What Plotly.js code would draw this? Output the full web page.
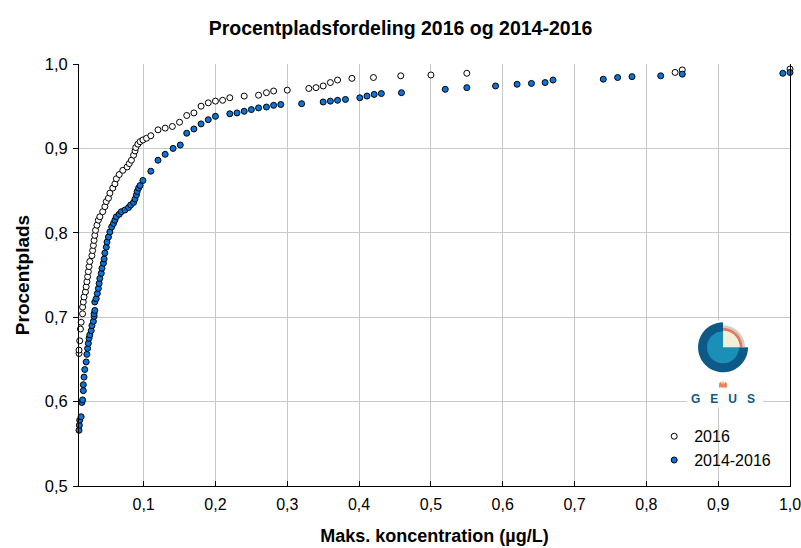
<!DOCTYPE html>
<html>
<head>
<meta charset="utf-8">
<script src="https://cdn.plot.ly/plotly-3.0.1.min.js"></script>
<style>html,body{margin:0;padding:0;background:#fff;}#chart{width:801px;height:548px;}</style>
</head>
<body>
<div id="chart"></div>
<script>
// Series "2016" (max concentration µg/L, percentile)
const x2016 = [0.010,0.010,0.011,0.012,0.013,0.015,0.015,0.016,0.017,0.019,0.020,0.021,0.022,0.023,0.024,0.025,
  0.028,0.029,0.030,0.031,0.032,0.033,0.035,0.037,0.039,0.043,0.046,0.048,0.051,0.053,0.057,0.060,0.062,0.066,
  0.071,0.077,0.080,0.083,0.086,0.088,0.089,0.092,0.095,0.099,0.104,0.110,0.120,0.130,0.140,0.150,0.160,0.170,
  0.180,0.190,0.200,0.210,0.220,0.240,0.260,0.271,0.281,0.300,0.330,0.340,0.350,0.360,0.370,0.390,0.420,0.458,
  0.500,0.550,0.840,0.850,1.000];
const y2016 = [0.657,0.661,0.672,0.686,0.694,0.704,0.712,0.718,0.724,0.730,0.736,0.742,0.748,0.754,0.760,0.766,
  0.773,0.779,0.785,0.791,0.797,0.803,0.809,0.815,0.819,0.825,0.831,0.837,0.841,0.847,0.853,0.858,0.864,0.869,
  0.874,0.878,0.882,0.886,0.892,0.897,0.901,0.905,0.908,0.910,0.912,0.915,0.922,0.924,0.926,0.931,0.939,0.942,
  0.950,0.954,0.956,0.957,0.960,0.962,0.963,0.966,0.968,0.969,0.971,0.972,0.974,0.978,0.981,0.983,0.984,0.986,
  0.987,0.989,0.990,0.993,0.994];

// Series "2014-2016"
const x1416 = [0.010,0.0105,0.011,0.013,0.014,0.015,0.016,0.016,0.017,0.018,0.020,0.021,0.022,0.023,0.024,0.025,
  0.027,0.028,0.030,0.031,0.031,0.032,0.032,0.034,0.0355,0.037,0.038,0.039,0.041,0.042,0.044,0.045,0.046,0.048,
  0.049,0.051,0.053,0.0555,0.058,0.060,0.062,0.066,0.069,0.074,0.079,0.082,0.086,0.088,0.090,0.091,0.093,0.095,
  0.099,0.110,0.120,0.130,0.141,0.151,0.160,0.170,0.180,0.190,0.200,0.220,0.230,0.240,0.250,0.260,0.271,0.281,
  0.291,0.320,0.350,0.360,0.370,0.381,0.401,0.411,0.421,0.431,0.459,0.520,0.550,0.590,0.620,0.640,0.659,0.670,
  0.740,0.760,0.780,0.820,0.850,0.990,1.000];
const y1416 = [0.566,0.572,0.578,0.582,0.599,0.602,0.613,0.620,0.629,0.638,0.647,0.656,0.663,0.669,0.675,0.679,
  0.684,0.690,0.695,0.701,0.704,0.708,0.718,0.722,0.728,0.734,0.740,0.746,0.752,0.758,0.764,0.769,0.776,0.783,
  0.789,0.795,0.801,0.807,0.811,0.815,0.819,0.822,0.825,0.827,0.830,0.833,0.836,0.840,0.845,0.849,0.853,0.856,
  0.862,0.873,0.886,0.893,0.900,0.904,0.918,0.923,0.929,0.934,0.938,0.941,0.942,0.944,0.946,0.948,0.949,0.951,
  0.952,0.953,0.955,0.956,0.957,0.958,0.960,0.962,0.964,0.965,0.966,0.970,0.972,0.974,0.976,0.977,0.978,0.981,
  0.982,0.984,0.985,0.986,0.988,0.989,0.990];

const seriesNames = ['2016','2014-2016'];
const xTickVals = [0.1,0.2,0.3,0.4,0.5,0.6,0.7,0.8,0.9,1.0];
const yTickVals = [0.5,0.6,0.7,0.8,0.9,1.0];

const FONT = 'Liberation Sans, Arial, sans-serif';

// ---- logo helpers (pixel-sized shapes) ----
function sector(r, a0, a1) {
  let p = 'M0,0';
  const n = 40;
  for (let i = 0; i <= n; i++) {
    const a = (a0 + (a1 - a0) * i / n) * Math.PI / 180;
    p += ' L' + (r * Math.cos(a)).toFixed(2) + ',' + (r * Math.sin(a)).toFixed(2);
  }
  return p + ' Z';
}
function band(r0, r1, a0, a1) {
  const n = 30; let p = '';
  for (let i = 0; i <= n; i++) {
    const a = (a0 + (a1 - a0) * i / n) * Math.PI / 180;
    p += (i === 0 ? 'M' : ' L') + (r1 * Math.cos(a)).toFixed(2) + ',' + (r1 * Math.sin(a)).toFixed(2);
  }
  for (let i = n; i >= 0; i--) {
    const a = (a0 + (a1 - a0) * i / n) * Math.PI / 180;
    p += ' L' + (r0 * Math.cos(a)).toFixed(2) + ',' + (r0 * Math.sin(a)).toFixed(2);
  }
  return p + ' Z';
}
const LX = 0.9058, LY = 0.3286; // logo centre (paper)
function pxShape(path, color, ax, ay) {
  return {type:'path', xref:'paper', yref:'paper', xsizemode:'pixel', ysizemode:'pixel',
    xanchor: ax === undefined ? LX : ax, yanchor: ay === undefined ? LY : ay,
    path: path, fillcolor: color, line:{width:0}, layer:'above'};
}
const shapes = [
  {type:'rect', xref:'paper', yref:'paper', x0:0.8551, x1:0.9620, y0:0.1862, y1:0.392,
   fillcolor:'#ffffff', line:{width:0}, layer:'above'},
  pxShape(sector(25, 90, 360), '#0d5a88'),
  pxShape(sector(16, 90, 360), '#1a8fb8'),
  pxShape(band(19.5, 22, 0, 90), '#cfcfcf'),
  pxShape(band(16.5, 19.5, 0, 90), '#e07a5f'),
  pxShape(sector(16.5, 0, 90), '#f3eed6'),
  pxShape('M-4,-3 L4,-3 L4,1 L2,3 L1,0 L0,4 L-1,0 L-2,3 L-4,1 Z', '#e8845a', LX, 0.2408)
];

const traces = [
  {x: x2016, y: y2016, name: seriesNames[0], type:'scatter', mode:'markers', cliponaxis:false,
   marker:{size:6, color:'#ffffff', line:{color:'#000000', width:1}}},
  {x: x1416, y: y1416, name: seriesNames[1], type:'scatter', mode:'markers', cliponaxis:false,
   marker:{size:6, color:'#0a74dc', line:{color:'#000000', width:1}}}
];

const layout = {
  width: 801, height: 548,
  margin: {l:79, r:11, t:64, b:62, pad:0},
  paper_bgcolor:'#ffffff', plot_bgcolor:'#ffffff',
  separators: ', ',
  font: {family: FONT, size: 16, color:'#000000'},
  title: {text:'<b>Procentpladsfordeling 2016 og 2014-2016</b>', font:{family:FONT, size:19.5, color:'#000'},
          x:0.5, xref:'container', xanchor:'center', y:1-28/548, yref:'container', yanchor:'middle'},
  xaxis: {range:[0.01, 1.000001], tickvals: xTickVals, tickformat:'.1f', showgrid:true, gridcolor:'#c8c8c8', gridwidth:1,
          zeroline:false, showline:true, linecolor:'#000', linewidth:1, ticks:'inside', ticklen:5, tickcolor:'#000',
          tickfont:{family:FONT, size:16}, ticklabelstandoff: 4, ticklabeloverflow:'allow',
          title:{text:'<b>Maks. koncentration (µg/L)</b>', font:{family:FONT, size:18}, standoff: 17}},
  yaxis: {range:[0.5, 1.0], tickvals: yTickVals, tickformat:'.1f', showgrid:true, gridcolor:'#c8c8c8', gridwidth:1,
          zeroline:false, showline:true, linecolor:'#000', linewidth:1, mirror:true, ticks:'outside', ticklen:5, tickcolor:'#000',
          tickfont:{family:FONT, size:16.5}, ticklabelstandoff: 2, ticklabeloverflow:'allow',
          title:{text:'<b>Procentplads</b>', font:{family:FONT, size:19}, standoff: 10}},
  showlegend: true,
  legend: {x:0.809, y:0.158, xanchor:'left', yanchor:'top', bgcolor:'rgba(0,0,0,0)', borderwidth:0,
           font:{family:FONT, size:16}},
  shapes: shapes,
  annotations: [
    {xref:'paper', yref:'paper', x:LX, y:0.2052, text:'<b>G   E   U   S</b>', showarrow:false,
     font:{family:FONT, size:12, color:'#0d5a88'}, xanchor:'center', yanchor:'middle'}
  ]
};

Plotly.newPlot('chart', traces, layout, {displayModeBar:false, staticPlot:true});
</script>
</body>
</html>
